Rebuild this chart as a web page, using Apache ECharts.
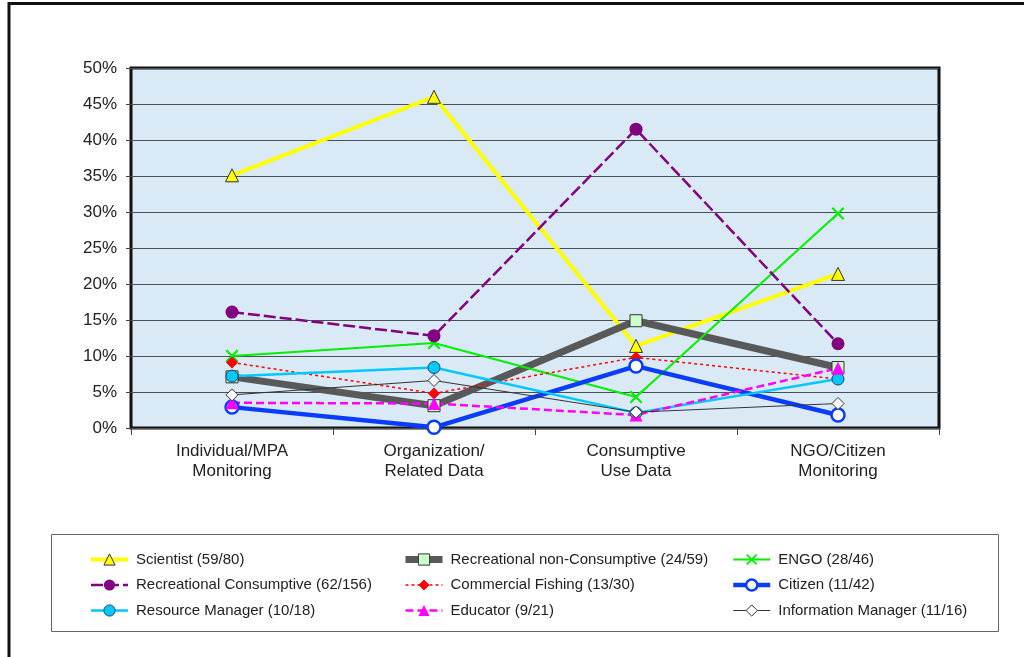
<!DOCTYPE html>
<html>
<head>
<meta charset="utf-8">
<script src="https://cdn.jsdelivr.net/npm/echarts@6/dist/echarts.min.js"></script>
<style>
html,body{margin:0;padding:0;background:#fff;}
#c{width:1024px;height:657px;}
</style>
</head>
<body>
<div id="c"></div>
<script>
var categories = ['Individual/MPA\nMonitoring', 'Organization/\nRelated Data', 'Consumptive\nUse Data', 'NGO/Citizen\nMonitoring'];
var yTicks = [0, 5, 10, 15, 20, 25, 30, 35, 40, 45, 50];

var scientist = [35.1, 46.0, 11.4, 21.4];
var recNonConsumptive = [7.1, 3.1, 14.9, 8.4];
var engo = [10.0, 11.8, 4.3, 29.8];
var recConsumptive = [16.1, 12.8, 41.5, 11.7];
var commercialFishing = [9.1, 4.8, 9.8, 6.8];
var citizen = [2.9, 0.1, 8.6, 1.8];
var resourceManager = [7.2, 8.4, 2.1, 6.8];
var educator = [3.5, 3.4, 1.8, 8.3];
var infoManager = [4.6, 6.6, 2.2, 3.4];

var names = [
  'Scientist (59/80)',
  'Recreational non-Consumptive (24/59)',
  'ENGO (28/46)',
  'Recreational Consumptive (62/156)',
  'Commercial Fishing (13/30)',
  'Citizen (11/42)',
  'Resource Manager (10/18)',
  'Educator (9/21)',
  'Information Manager (11/16)'
];

var xPath = 'path://M0,1.2 L1.2,0 L5,3.8 L8.8,0 L10,1.2 L6.2,5 L10,8.8 L8.8,10 L5,6.2 L1.2,10 L0,8.8 L3.8,5 Z';

var styles = [];
function mk(name, data, color, width, type, symbol, size, fill, border, bw) {
  styles.push({name: name, lineStyle: {color: color, width: width, type: type}, itemStyle: {color: fill, borderColor: border, borderWidth: bw}});
  return {
    name: name, type: 'line', data: data,
    symbol: symbol, symbolSize: size,
    lineStyle: {color: color, width: width, type: type},
    itemStyle: {color: fill, borderColor: border, borderWidth: bw},
    emphasis: {disabled: true},
    animation: false
  };
}

var series = [
  mk(names[0], scientist, '#ffff00', 4, 'solid', 'triangle', 13, '#ffff00', '#333333', 1),
  mk(names[1], recNonConsumptive, '#595959', 7, 'solid', 'rect', 12, '#ccffcc', '#333333', 1),
  mk(names[2], engo, '#00f000', 2, 'solid', xPath, 13, '#00f000', '#00f000', 0),
  mk(names[3], recConsumptive, '#800080', 2.5, [12, 4], 'circle', 13, '#800080', '#800080', 0),
  mk(names[4], commercialFishing, '#ff0000', 1.5, [3, 3], 'diamond', 12, '#ff0000', '#ff0000', 0),
  mk(names[5], citizen, '#0a3cff', 4.5, 'solid', 'circle', 13, '#ffffff', '#0a3cff', 2.5),
  mk(names[6], resourceManager, '#00c8ff', 2.5, 'solid', 'circle', 12, '#00c8ff', '#224466', 1),
  mk(names[7], educator, '#ff00ff', 2.5, [8, 4], 'triangle', 13, '#ff00ff', '#ff00ff', 0),
  mk(names[8], infoManager, '#333333', 1, 'solid', 'diamond', 12, '#ffffff', '#333333', 1)
];

function legendCol(left, idx) {
  return {
    orient: 'vertical', left: left, top: 552, padding: 0,
    data: idx.map(function (i) { return styles[i]; }),
    itemWidth: 37, itemHeight: 14, itemGap: 10.5,
    selectedMode: false,
    textStyle: {fontFamily: 'Liberation Sans, Arial', fontSize: 15, color: '#222', lineHeight: 14, padding: [0, 0, 0, 3]}
  };
}

var chart = echarts.init(document.getElementById('c'));
chart.setOption({
  animation: false,
  grid: {left: 131, right: 85, top: 68, bottom: 229, show: true, backgroundColor: '#d9e9f5', borderColor: '#111111', borderWidth: 3},
  xAxis: {
    type: 'category', data: categories, boundaryGap: true,
    axisLine: {show: false},
    axisTick: {show: true, length: 7, lineStyle: {color: '#444'}},
    axisLabel: {fontFamily: 'Liberation Sans, Arial', fontSize: 17, color: '#222', lineHeight: 20, margin: 13}
  },
  yAxis: {
    type: 'value', min: yTicks[0], max: yTicks[yTicks.length - 1], interval: 5,
    axisLine: {show: false},
    axisTick: {show: true, length: 5, lineStyle: {color: '#444'}},
    splitLine: {show: true, lineStyle: {color: '#4a4f55', width: 1}},
    axisLabel: {fontFamily: 'Liberation Sans, Arial', fontSize: 17, color: '#222', margin: 14, formatter: '{value}%'}
  },
  legend: [
    legendCol(89, [0, 3, 6]),
    legendCol(402, [1, 4, 7]),
    legendCol(731, [2, 5, 8])
  ],
  graphic: [
    {type: 'polyline', shape: {points: [[9, 657], [9, 3.5], [1024, 3.5]]}, style: {stroke: '#111', lineWidth: 3, fill: null}, silent: true},
    {type: 'rect', shape: {x: 51.5, y: 534.5, width: 947, height: 97}, style: {stroke: '#666', lineWidth: 1, fill: null}, silent: true}
  ],
  series: series
});
</script>
</body>
</html>
